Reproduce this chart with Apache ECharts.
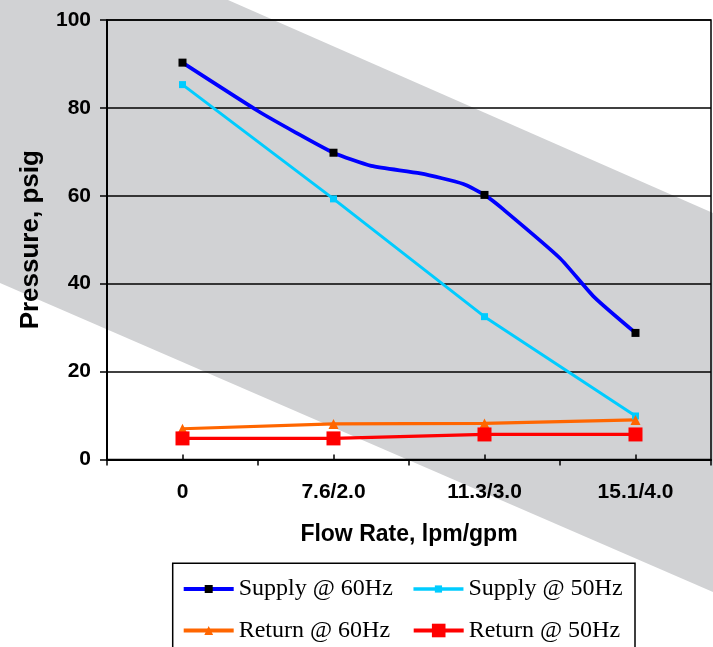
<!DOCTYPE html>
<html>
<head>
<meta charset="utf-8">
<script src="https://cdn.jsdelivr.net/npm/echarts@6/dist/echarts.min.js"></script>
<style>
html,body{margin:0;padding:0;background:#fff;}
#chart{width:713px;height:647px;}
</style>
</head>
<body>
<div id="chart"></div>
<script>
// ---- data ----
const categories = ['0', '7.6/2.0', '11.3/3.0', '15.1/4.0'];
const categoryPos = [1, 3, 5, 7];           // band centres on the 0..8 flow scale
const boundaryTicks = [0, 2, 4, 6, 8];
const yTicks = [0, 20, 40, 60, 80, 100];
// Supply @ 60Hz is a curve read along its length; markers only at the four flow rates
const supply60 = [[1, 90.3], [2, 79.3], [2.5, 74.4], [3, 69.8], [3.5, 66.8], [4.15, 65.1],
                  [4.72, 62.7], [5, 60.2], [5.25, 56.9], [6, 45.8], [6.45, 37.0], [7, 28.8]];
const supply50 = [85.3, 59.3, 32.5, 9.9];
const return60 = [7.0, 8.1, 8.2, 9.0];
const return50 = [4.8, 4.8, 5.7, 5.7];
const seriesNames = ['Supply @ 60Hz', 'Supply @ 50Hz', 'Return @ 60Hz', 'Return @ 50Hz'];

const pair = arr => arr.map((v, i) => [categoryPos[i], v]);
const s60data = supply60.map(p => categoryPos.includes(p[0]) ? {value: p} : {value: p, symbol: 'none'});

const chart = echarts.init(document.getElementById('chart'), null, {renderer: 'canvas'});
const sans = 'Liberation Sans, Arial, sans-serif';
const serif = 'Liberation Serif, Times New Roman, serif';
const legendText = {fontFamily: serif, fontSize: 24, color: '#000'};

const option = {
  animation: false,
  backgroundColor: '#fff',
  graphic: [
    {type: 'polygon', z: -100, silent: true,
     shape: {points: [[0, 0], [228, 0], [713, 213], [713, 592], [0, 283]]},
     style: {fill: '#d1d2d4'}},
    {type: 'rect', z: 1, silent: true,
     shape: {x: 172.7, y: 563.3, width: 462.3, height: 100},
     style: {fill: '#fff', stroke: '#000', lineWidth: 1.5}}
  ],
  grid: {left: 107, top: 20, right: 2, bottom: 187.5, show: true,
         borderColor: '#000', borderWidth: 1.5, backgroundColor: 'transparent'},
  xAxis: [
    {type: 'value', min: 0, max: 8, interval: 2, position: 'bottom',
     axisLine: {show: true, lineStyle: {color: '#000', width: 2}},
     axisTick: {show: true, inside: false, length: 6, customValues: boundaryTicks,
                lineStyle: {color: '#000', width: 1.5}},
     axisLabel: {show: false},
     splitLine: {show: false}},
    {type: 'value', min: 0, max: 8, interval: 2, position: 'bottom',
     axisLine: {show: false},
     axisTick: {show: true, inside: true, length: 5, customValues: categoryPos,
                lineStyle: {color: '#000', width: 1.5}},
     axisLabel: {show: true, customValues: categoryPos, margin: 22,
                 formatter: v => categories[categoryPos.indexOf(v)],
                 fontFamily: sans, fontWeight: 'bold', fontSize: 21, color: '#000'},
     splitLine: {show: false},
     name: 'Flow Rate, lpm/gpm', nameLocation: 'middle', nameGap: 64,
     nameTextStyle: {fontFamily: sans, fontWeight: 'bold', fontSize: 23, color: '#000'}}
  ],
  yAxis: {
    type: 'value', min: 0, max: 100, interval: 20,
    axisLine: {show: true, lineStyle: {color: '#000', width: 2}},
    axisTick: {show: true, inside: false, length: 7, customValues: yTicks,
               lineStyle: {color: '#000', width: 1.5}},
    axisLabel: {margin: 16, fontFamily: sans, fontWeight: 'bold', fontSize: 21, color: '#000'},
    splitLine: {show: true, lineStyle: {color: '#000', width: 1.5}},
    name: 'Pressure, psig', nameLocation: 'middle', nameGap: 63, nameRotate: 90,
    nameTextStyle: {fontFamily: sans, fontWeight: 'bold', fontSize: 26, color: '#000'}
  },
  legend: [
    {data: [seriesNames[0]], left: 181.7, top: 577, padding: 0, itemWidth: 50, itemHeight: 10,
     lineStyle: {width: 4}, textStyle: legendText},
    {data: [seriesNames[1]], left: 411.7, top: 577, padding: 0, itemWidth: 50, itemHeight: 9,
     lineStyle: {width: 3.5}, textStyle: legendText},
    {data: [seriesNames[2]], left: 181.7, top: 618.5, padding: 0, itemWidth: 50, itemHeight: 11,
     lineStyle: {width: 4}, textStyle: legendText},
    {data: [seriesNames[3]], left: 411.7, top: 618.5, padding: 0, itemWidth: 50, itemHeight: 17,
     lineStyle: {width: 4}, textStyle: legendText}
  ],
  series: [
    {name: seriesNames[0], type: 'line', xAxisIndex: 0, data: s60data,
     symbol: 'rect', symbolSize: 8, smooth: 0.2,
     itemStyle: {color: '#000'}, lineStyle: {color: '#0000ff', width: 3.7}},
    {name: seriesNames[1], type: 'line', xAxisIndex: 0, data: pair(supply50),
     symbol: 'rect', symbolSize: 7,
     itemStyle: {color: '#00ccff'}, lineStyle: {color: '#00ccff', width: 3}},
    {name: seriesNames[2], type: 'line', xAxisIndex: 0, data: pair(return60),
     symbol: 'triangle', symbolSize: 10,
     itemStyle: {color: '#ff6600'}, lineStyle: {color: '#ff6600', width: 3.2}},
    {name: seriesNames[3], type: 'line', xAxisIndex: 0, data: pair(return50),
     symbol: 'rect', symbolSize: 14,
     itemStyle: {color: '#ff0000'}, lineStyle: {color: '#ff0000', width: 3.2}}
  ]
};
chart.setOption(option);
</script>
</body>
</html>
